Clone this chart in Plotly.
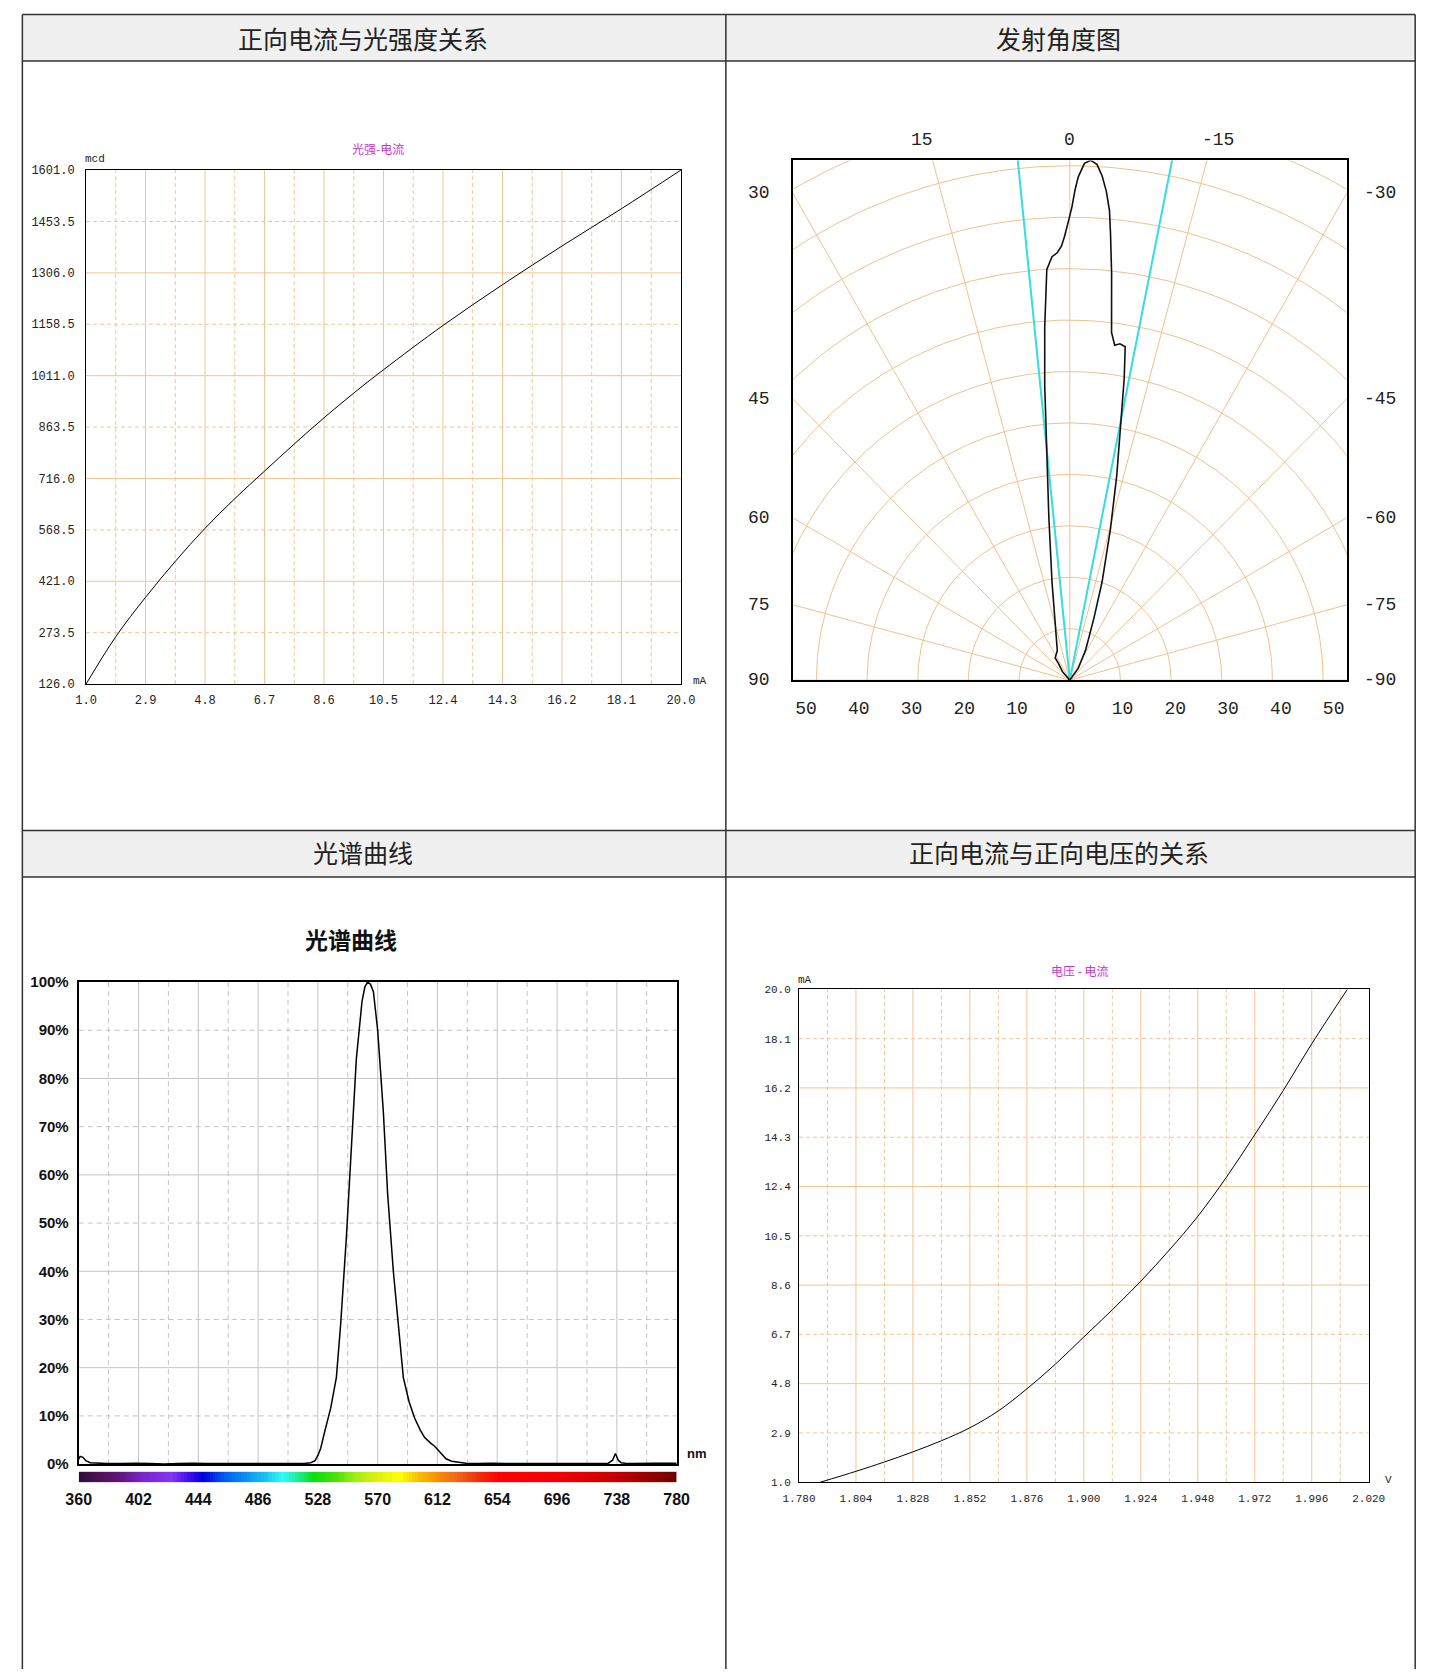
import numpy as np
import plotly.graph_objects as go

W, H = 1440, 1677

# ---------------- data ----------------
# 1. forward current vs luminous intensity
li_x_ticks = [1.0, 2.9, 4.8, 6.7, 8.6, 10.5, 12.4, 14.3, 16.2, 18.1, 20.0]
li_y_ticks = [126.0, 273.5, 421.0, 568.5, 716.0, 863.5, 1011.0, 1158.5, 1306.0, 1453.5, 1601.0]
li_current = [1.0, 1.95, 2.9, 3.85, 4.8, 5.75, 6.7, 7.65, 8.6, 9.55, 10.5, 12.4, 14.3, 16.2, 18.1, 20.0]
li_intensity = [126, 262, 375, 478, 573, 658, 737, 815, 890, 961, 1028, 1155, 1272, 1383, 1490, 1601]

# 2. radiation pattern (angle in degrees, + to the left; relative radius)
beam_angle = [0, 41.2, 34.5, 33.7, 23.2, 14.8, 10.4, 7.45, 5.9, 4.93, 4.12, 3.58, 3.25, 2.44, 1.71,
              1.12, 0.69, 0.13, -0.26, -0.62, -0.97, -1.65, -2.34, -3.06, -3.73, -4.34, -4.90,
              -5.29, -5.96, -6.95, -7.75, -8.61, -9.58, -10.38, -11.40, -13.12, -15.26, -18.43,
              -21.6, -28.2, -36.0, 0]
beam_r = [0, 2.1, 3.8, 5.0, 6.0, 10.9, 18.7, 30.6, 42.4, 55.3, 66.1, 73.0, 76.8, 79.1, 79.8,
          81.0, 82.8, 85.9, 88.3, 91.5, 93.9, 96.5, 97.1, 96.4, 94.3, 91.5, 88.0,
          83.7, 76.3, 65.4, 63.1, 63.5, 63.1, 57.2, 49.1, 39.2, 29.3, 19.4,
          12.4, 6.3, 2.7, 0]
half_angles = [5.8, -11.3]
polar_ring_r = [9.6, 19.2, 28.8, 38.4, 48.0, 57.6, 67.2, 76.8, 86.4, 96.0, 105.6, 115.2]
polar_spoke_deg = [-90, -75, -60, -45, -30, -15, 0, 15, 30, 45, 60, 75, 90]
polar_x_ticks = [-50, -40, -30, -20, -10, 0, 10, 20, 30, 40, 50]
polar_side_ticks = [30, 45, 60, 75, 90]
polar_top_ticks = [15, 0, -15]

# 3. spectrum
spec_wl = [360, 361, 363, 365, 368, 372, 380, 390, 400, 410,
           420, 430, 440, 450, 460, 470, 480, 490, 500, 510,
           518, 523, 526, 528, 530, 533, 537, 541, 544, 548,
           552, 555, 559, 561, 563, 565, 567, 570, 574, 577,
           581, 585, 588, 592, 596, 600, 603, 607, 610, 614,
           618, 622, 626, 632, 640, 650, 660, 680, 700, 720,
           732, 735, 737, 739, 741, 744, 750, 765, 780]
spec_rel = [1.0, 1.6, 1.4, 0.7, 0.3, 0.2, 0.1, 0.1, 0.2, 0.1,
            0.0, 0.1, 0.2, 0.1, 0.1, 0.2, 0.1, 0.1, 0.1, 0.2,
            0.1, 0.3, 0.7, 1.8, 3.3, 7.0, 11.6, 18.0, 29.0, 47.0,
            67.0, 84.0, 96.0, 99.0, 100.0, 99.5, 98.0, 90.0, 73.0, 56.0,
            40.0, 28.0, 18.0, 13.0, 9.5, 7.0, 5.5, 4.4, 3.7, 2.4,
            1.1, 0.6, 0.4, 0.2, 0.1, 0.2, 0.1, 0.1, 0.2, 0.1,
            0.2, 0.8, 2.2, 0.8, 0.3, 0.2, 0.1, 0.2, 0.2]
spec_x_ticks = [360, 402, 444, 486, 528, 570, 612, 654, 696, 738, 780]
spec_y_ticks = [0, 10, 20, 30, 40, 50, 60, 70, 80, 90, 100]
strip_wl = [360, 372, 390, 405, 425, 437, 447, 462, 478, 492, 503, 512, 525, 540, 555, 570,
            586, 598, 612, 625, 640, 655, 700, 735, 760, 780]
strip_col = ["#2e0c3c", "#4c1050", "#64157c", "#7a24d0", "#8434f4", "#4010ee", "#0000e0",
             "#0058f0", "#0a94f0", "#18c8f0", "#30fafa", "#20f0a8", "#08e010", "#48e008",
             "#a0f010", "#e0f010", "#ffff00", "#f8c000", "#f89000", "#f06818", "#f03010",
             "#ff0000", "#f00000", "#c80000", "#980000", "#700000"]

# 4. forward voltage vs forward current
vi_x_ticks = [1.780, 1.804, 1.828, 1.852, 1.876, 1.900, 1.924, 1.948, 1.972, 1.996, 2.020]
vi_y_ticks = [1.0, 2.9, 4.8, 6.7, 8.6, 10.5, 12.4, 14.3, 16.2, 18.1, 20.0]
vi_voltage = [1.789, 1.804, 1.816, 1.828, 1.840, 1.852, 1.864, 1.876, 1.888, 1.900,
              1.912, 1.924, 1.936, 1.948, 1.960, 1.972, 1.984, 1.996, 2.011]
vi_current = [1.0, 1.42, 1.78, 2.17, 2.6, 3.1, 3.75, 4.6, 5.55, 6.6,
              7.65, 8.75, 9.95, 11.25, 12.75, 14.4, 16.1, 17.9, 20.0]

headers = ["正向电流与光强度关系", "发射角度图", "光谱曲线", "正向电流与正向电压的关系"]

# ---------------- helpers ----------------
def PX(x):
    return x / W


def PY(y):
    return 1 - y / H


ORANGE = "#f6c48e"
POLAR = "#f4c08a"
GRAY = "#c4c4c4"
MONO = "Liberation Mono, DejaVu Sans Mono, monospace"
NARROW = "Liberation Sans Narrow, Liberation Sans, Arial Narrow, sans-serif"
CJK = "Noto Sans CJK SC, Noto Sans, sans-serif"

shapes = []
annotations = []


def note(text, x, y, font, xref="paper", yref="paper", **kw):
    d = dict(text=text, xref=xref, yref=yref, x=x, y=y, showarrow=False, font=font,
             xanchor="center", yanchor="middle")
    d.update(kw)
    annotations.append(d)


def grid(xr, yr, xt, yt, color, dash, width=1):
    # vertical: solid at labelled ticks, dashed at midpoints
    for i, v in enumerate(xt):
        if 0 < i < len(xt) - 1:
            shapes.append(dict(type="line", xref=xr, yref=yr + " domain", x0=v, x1=v, y0=0, y1=1,
                               line=dict(color=color, width=width), layer="below"))
        if i > 0:
            m = (xt[i - 1] + v) / 2
            shapes.append(dict(type="line", xref=xr, yref=yr + " domain", x0=m, x1=m, y0=0, y1=1,
                               line=dict(color=color, width=width, dash=dash), layer="below"))
    # horizontal: alternate dashed (odd) / solid (even)
    for i, v in enumerate(yt):
        if 0 < i < len(yt) - 1:
            ln = dict(color=color, width=width)
            if i % 2 == 1:
                ln["dash"] = dash
            shapes.append(dict(type="line", xref=xr + " domain", yref=yr, x0=0, x1=1, y0=v, y1=v,
                               line=ln, layer="below"))


fig = go.Figure()

# ---------------- table frame ----------------
L, R, T, MID = 5.5, 1432, 5.5, 726
H1B, R2T, H2B = 52.5, 830, 877
for (y0, y1) in [(T, H1B), (R2T, H2B)]:
    shapes.append(dict(type="rect", xref="paper", yref="paper", x0=PX(L), x1=PX(R), y0=PY(y1), y1=PY(y0),
                       fillcolor="#f0f0f0", line=dict(width=0), layer="below"))
for y in [T, H1B, R2T, H2B]:
    shapes.append(dict(type="line", xref="paper", yref="paper", x0=PX(L), x1=PX(R), y0=PY(y), y1=PY(y),
                       line=dict(color="#333", width=1.5)))
for x in [L, MID, R]:
    shapes.append(dict(type="line", xref="paper", yref="paper", x0=PX(x), x1=PX(x), y0=0, y1=PY(T),
                       line=dict(color="#333", width=1.5)))
for txt, (cx, cy) in zip(headers, [(354, 29), (1067, 29), (354, 852), (1067, 852)]):
    note(txt, PX(cx), PY(cy), dict(family=CJK, size=25, color="#222"))

# ---------------- chart 1 ----------------
fig.add_trace(go.Scatter(x=li_current, y=li_intensity, mode="lines", line=dict(color="black", width=1, shape="spline"),
                         xaxis="x", yaxis="y", hoverinfo="skip"))
grid("x", "y", li_x_ticks, li_y_ticks, ORANGE, "4px,3px")
note("光强-电流", PX(370), PY(141), dict(family=CJK, size=12, color="#cc33cc"))
note("mcd", PX(80), PY(152), dict(family=MONO, size=11, color="#222"))
note("mA", PX(700), PY(679), dict(family=MONO, size=11, color="#222"))

# ---------------- chart 2 (polar drawn in cartesian units) ----------------
th = np.radians(np.linspace(0, 180, 181))
rx, ry = [], []
for r in polar_ring_r:
    rx += list(r * np.cos(th)) + [None]
    ry += list(r * np.sin(th)) + [None]
fig.add_trace(go.Scatter(x=rx, y=ry, mode="lines", line=dict(color=POLAR, width=1), xaxis="x2", yaxis="y2",
                         hoverinfo="skip"))
sx, sy = [], []
for a in polar_spoke_deg:
    sx += [0, -150 * np.sin(np.radians(a)), None]
    sy += [0, 150 * np.cos(np.radians(a)), None]
fig.add_trace(go.Scatter(x=sx, y=sy, mode="lines", line=dict(color=POLAR, width=1), xaxis="x2", yaxis="y2",
                         hoverinfo="skip"))
cx_, cy_ = [], []
for a in half_angles:
    cx_ += [0, -150 * np.sin(np.radians(a)), None]
    cy_ += [0, 150 * np.cos(np.radians(a)), None]
fig.add_trace(go.Scatter(x=cx_, y=cy_, mode="lines", line=dict(color="#33dde0", width=2), xaxis="x2", yaxis="y2",
                         hoverinfo="skip"))
ba = np.radians(beam_angle)
br = np.array(beam_r)
fig.add_trace(go.Scatter(x=-br * np.sin(ba), y=br * np.cos(ba), mode="lines", line=dict(color="#111", width=1.6),
                         xaxis="x2", yaxis="y2", hoverinfo="skip"))
PXR, PYR = 52.5, 97.0
F18 = dict(family=MONO, size=18, color="#222")
for a in polar_side_ticks:
    yv = PXR / np.tan(np.radians(a)) if a < 90 else 0
    note(str(a), -PXR, yv, F18, xref="x2", yref="y2", xshift=-34)
    note(str(-a), PXR, yv, F18, xref="x2", yref="y2", xshift=33)
for a in polar_top_ticks:
    xv = -PYR * np.tan(np.radians(a))
    note(str(a), xv, PYR, F18, xref="x2", yref="y2", yshift=20,
         xshift=(-11 if a > 0 else (11 if a < 0 else 0)))

# ---------------- chart 3 ----------------
fig.add_trace(go.Scatter(x=spec_wl, y=spec_rel, mode="lines", line=dict(color="black", width=1.5),
                         xaxis="x3", yaxis="y3", hoverinfo="skip"))
grid("x3", "y3", spec_x_ticks, spec_y_ticks, GRAY, "5px,4px")
cells = list(range(spec_x_ticks[0] + 1, spec_x_ticks[-1], 2))
span = strip_wl[-1] - strip_wl[0]
cscale = [[(w - strip_wl[0]) / span, c] for w, c in zip(strip_wl, strip_col)]
fig.add_trace(go.Heatmap(x=cells, y=[0], z=[cells], colorscale=cscale, zmin=strip_wl[0], zmax=strip_wl[-1],
                         showscale=False, xaxis="x4", yaxis="y4", hoverinfo="skip"))
note("<b>光谱曲线</b>", PX(342), PY(940), dict(family=CJK, size=23, color="#111"))
note("<b>nm</b>", PX(696), PY(1459), dict(family=NARROW, size=13, color="#111"))

# ---------------- chart 4 ----------------
fig.add_trace(go.Scatter(x=vi_voltage, y=vi_current, mode="lines", line=dict(color="black", width=1, shape="spline"),
                         xaxis="x5", yaxis="y5", hoverinfo="skip"))
grid("x5", "y5", vi_x_ticks, vi_y_ticks, ORANGE, "4px,3px")
note("电压 - 电流", PX(1089), PY(971), dict(family=CJK, size=12, color="#cc33cc"))
note("mA", PX(807), PY(981), dict(family=MONO, size=11, color="#222"))
note("V", PX(1405), PY(1486), dict(family=MONO, size=11, color="#222"))


def ax(domain, rng, tickvals, ticktext, anchor, font, standoff, line_w=1, **kw):
    d = dict(domain=domain, range=rng, anchor=anchor, tickvals=tickvals, ticktext=ticktext, showgrid=False,
             zeroline=False, showline=True, mirror=True, linecolor="black", linewidth=line_w, ticks="",
             tickfont=font, ticklabelstandoff=standoff, fixedrange=True)
    d.update(kw)
    return d


F12 = dict(family=MONO, size=12, color="#222")
F11 = dict(family=MONO, size=11, color="#222")
FB = dict(family=NARROW, size=16, color="#111", weight="bold")
FBY = dict(family=NARROW, size=15, color="#111", weight="bold")

fig.update_layout(
    width=W, height=H, margin=dict(l=0, r=0, t=0, b=0), paper_bgcolor="white", plot_bgcolor="white",
    showlegend=False, hovermode=False,
    xaxis=ax([PX(70.7), PX(680)], [li_x_ticks[0], li_x_ticks[-1]], li_x_ticks, [f"{v:.1f}" for v in li_x_ticks],
             "y", F12, 5),
    yaxis=ax([PY(682), PY(162.7)], [li_y_ticks[0], li_y_ticks[-1]], li_y_ticks, [f"{v:.1f}" for v in li_y_ticks],
             "x", F12, 8),
    xaxis2=ax([PX(794.5), PX(1362)], [-PXR, PXR], polar_x_ticks, [str(abs(v)) for v in polar_x_ticks],
              "y2", F18, 11, line_w=1.5),
    yaxis2=ax([PY(678), PY(153)], [0, PYR], [], [], "x2", F18, 0, line_w=1.5, showticklabels=False),
    xaxis3=ax([PX(63.2), PX(675.6)], [spec_x_ticks[0], spec_x_ticks[-1]], [], [], "y3", FB, 0, line_w=2,
              showticklabels=False),
    yaxis3=ax([PY(1470), PY(983)], [spec_y_ticks[0], spec_y_ticks[-1]], spec_y_ticks,
              [f"{v}%" for v in spec_y_ticks], "x3", FBY, 5, line_w=2),
    xaxis4=ax([PX(63.2), PX(675.6)], [spec_x_ticks[0], spec_x_ticks[-1]], spec_x_ticks,
              [str(v) for v in spec_x_ticks], "y4", FB, 6, showline=False),
    yaxis4=dict(domain=[PY(1488.3), PY(1477.6)], range=[-0.5, 0.5], anchor="x4", visible=False, fixedrange=True),
    xaxis5=ax([PX(800.9), PX(1384.4)], [vi_x_ticks[0], vi_x_ticks[-1]], vi_x_ticks, [f"{v:.3f}" for v in vi_x_ticks],
              "y5", F11, 6),
    yaxis5=ax([PY(1488.3), PY(990.4)], [vi_y_ticks[0], vi_y_ticks[-1]], vi_y_ticks, [f"{v:.1f}" for v in vi_y_ticks],
              "x5", F11, 5),
    shapes=shapes, annotations=annotations,
)

fig.write_html("out.html", config={"displayModeBar": False},
               post_script="document.body.style.margin='0';document.body.style.overflow='hidden';")
